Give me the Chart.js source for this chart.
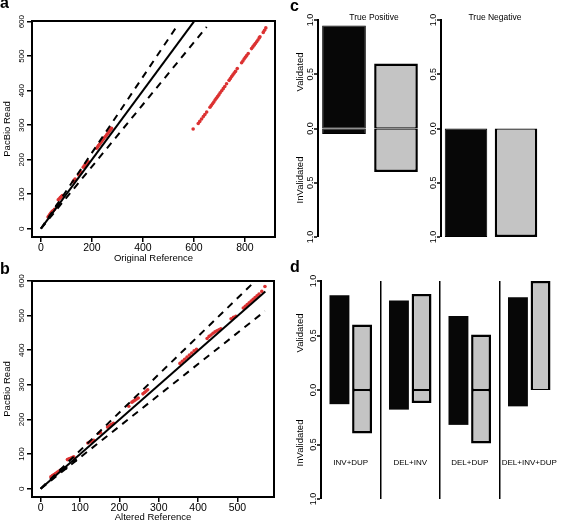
<!DOCTYPE html>
<html>
<head>
<meta charset="utf-8">
<script src="https://cdn.jsdelivr.net/npm/chart.js@4.4.1/dist/chart.umd.min.js"></script>
<style>
  body { margin: 0; background: #fff; }
  #wrap { position: relative; width: 567px; height: 523px; overflow: hidden; background: #fff;
          font-family: "Liberation Sans", Arial, sans-serif; color: #000; }
  canvas { position: absolute; }
  .lbl { position: absolute; white-space: nowrap; line-height: 1; }
  .rot { transform: translate(-50%, -50%) rotate(-90deg); font-size: 9.5px; }
  .ctr { transform: translate(-50%, -50%); font-size: 8.5px; }
  .panel { font-weight: bold; font-size: 16px; line-height: 16px; }
</style>
</head>
<body>
<div id="wrap">
  <canvas id="chartA" width="290" height="264" style="left:0;top:0"></canvas>
  <canvas id="chartB" width="290" height="261" style="left:0;top:262px"></canvas>
  <canvas id="chartC1" width="135" height="260" style="left:290px;top:0"></canvas>
  <canvas id="chartC2" width="142" height="260" style="left:425px;top:0"></canvas>
  <canvas id="chartD" width="277" height="261" style="left:290px;top:262px"></canvas>

  <div class="lbl panel" style="left:0;top:-5px">a</div>
  <div class="lbl panel" style="left:0;top:261px">b</div>
  <div class="lbl panel" style="left:290px;top:-2px">c</div>
  <div class="lbl panel" style="left:290px;top:259px">d</div>

  <div class="lbl ctr" style="left:374px;top:17px">True Positive</div>
  <div class="lbl ctr" style="left:495px;top:17px">True Negative</div>
  <div class="lbl rot" style="left:300px;top:72px">Validated</div>
  <div class="lbl rot" style="left:300px;top:180px">InValidated</div>
  <div class="lbl rot" style="left:300px;top:333px">Validated</div>
  <div class="lbl rot" style="left:300px;top:443px">InValidated</div>
</div>
<script>
// ---- panel a : read vs original reference ----
const aTicksX = [0, 200, 400, 600, 800];
const aTicksY = [0, 100, 200, 300, 400, 500, 600];
const aFitX = [0, 600];   const aFitY = [0, 600];
const aUpX = [0, 538];    const aUpY = [0, 592];
const aLoX = [0, 650];    const aLoY = [0, 585];
const aBlackX = [62, 66, 70];
const aBlackY = [66, 69, 72];
const aRedX = [28, 31, 34, 37, 40, 43, 46, 49, 53, 68, 72, 76, 80, 84, 126, 130, 134, 148, 153, 158,
  166, 170, 174, 178, 182, 186, 218, 222, 226, 230, 234, 238, 242, 246, 250, 254, 258, 262, 266, 270, 274, 277,
  597, 617, 623, 630, 637, 643, 650, 663, 668, 673, 678, 683, 688, 693, 698, 703, 709, 715, 721, 728,
  738, 743, 748, 753, 758, 763, 770, 787, 792, 797, 802, 807, 813, 826, 831, 836, 841, 846, 851, 856, 859,
  872, 877, 882];
const aRedY = [34, 37, 40, 43, 46, 49, 51, 53, 56, 84, 87, 90, 93, 96, 136, 140, 144, 156, 160, 164,
  178, 182, 185, 188, 191, 194, 233, 237, 241, 245, 249, 253, 257, 261, 265, 268, 272, 276, 280, 284, 288, 291,
  289, 305, 311, 318, 325, 331, 338, 352, 357, 362, 367, 373, 378, 383, 388, 394, 400, 406, 412, 420,
  430, 435, 441, 446, 451, 456, 464, 481, 486, 492, 497, 502, 508, 522, 527, 532, 537, 542, 547, 553, 556,
  569, 575, 582];

// ---- panel b : read vs altered reference ----
const bTicksX = [0, 100, 200, 300, 400, 500];
const bTicksY = [0, 100, 200, 300, 400, 500, 600];
const bFitX = [0, 571];   const bFitY = [0, 570];
const bUpX = [0, 547];    const bUpY = [0, 602];
const bLoX = [0, 570];    const bLoY = [0, 513];
const bBlackX = [52, 56, 60, 64, 84, 88];
const bBlackY = [54, 56, 58, 60, 79, 82];
const bRedX = [26, 30, 34, 38, 42, 46, 50, 54, 68, 72, 76, 80, 84, 120, 125, 130, 135, 148, 152,
  170, 175, 180, 185, 224, 232, 236, 240, 244, 248, 260, 264, 268, 272,
  354, 360, 366, 372, 378, 384, 390, 396, 423, 428, 433, 438, 443, 448, 453, 458,
  484, 490, 496, 515, 520, 525, 530, 535, 540, 545, 550, 555, 562, 570];
const bRedY = [34, 38, 41, 44, 47, 50, 53, 56, 84, 86, 88, 90, 92, 132, 135, 137, 140, 160, 162,
  178, 182, 186, 189, 238, 250, 253, 256, 259, 262, 274, 278, 282, 286,
  362, 368, 374, 380, 386, 392, 398, 403, 434, 440, 444, 449, 453, 456, 459, 462,
  491, 495, 498, 522, 527, 532, 537, 542, 547, 552, 557, 562, 570, 584];

// ---- panel c : validation fractions ----
const cBlackValid   = [0.95, 0.00];   // True Positive, True Negative
const cBlackInvalid = [0.05, 1.00];
const cGreyValid    = [0.60, 0.00];
const cGreyInvalid  = [0.40, 1.00];

// ---- panel d ----
const dCategories   = ['INV+DUP', 'DEL+INV', 'DEL+DUP', 'DEL+INV+DUP'];
const dBlackValid   = [0.87, 0.82, 0.68, 0.85];
const dBlackInvalid = [0.13, 0.18, 0.32, 0.15];
const dGreyValid    = [0.60, 0.88, 0.51, 1.00];
const dGreyInvalid  = [0.40, 0.12, 0.49, 0.00];
const fracTicks = [1, 0.5, 0, -0.5, -1];

const BLACK = '#070707';
const GREY = '#c4c4c4';
const RED = '#dc3232';

Chart.defaults.font.family = '"Liberation Sans", Arial, sans-serif';
Chart.defaults.color = '#000';

function pts(xs, ys) { return xs.map((x, i) => ({ x: x, y: ys[i] })); }
function fixedTicks(list) { return s => { s.ticks = list.map(v => ({ value: v })); }; }

// draws the R style box round the plot region
const boxPlugin = {
  id: 'box',
  afterDatasetsDraw(chart) {
    const a = chart.chartArea, c = chart.ctx;
    c.save();
    c.lineWidth = 2;
    c.strokeStyle = '#000';
    c.strokeRect(a.left, a.top, a.right - a.left, a.bottom - a.top);
    c.restore();
  }
};

function dotPlot(id, o) {
  const line = (xs, ys, dash) => ({
    data: pts(xs, ys), showLine: true, borderColor: '#000', backgroundColor: '#000',
    borderWidth: 2, borderDash: dash, pointRadius: 0
  });
  new Chart(document.getElementById(id), {
    type: 'scatter',
    data: {
      datasets: [
        line(o.fitX, o.fitY, []),
        line(o.upX, o.upY, [7, 6]),
        line(o.loX, o.loY, [7, 6]),
        { data: pts(o.blackX, o.blackY), pointRadius: 1.8, backgroundColor: '#000', borderWidth: 0 },
        { data: pts(o.redX, o.redY), pointRadius: 1.8, backgroundColor: RED, borderWidth: 0 }
      ]
    },
    options: {
      responsive: false,
      animation: false,
      layout: { padding: o.pad },
      plugins: { legend: { display: false }, tooltip: { enabled: false } },
      scales: {
        x: {
          type: 'linear', min: o.xMin, max: o.xMax,
          afterFit: s => { s.height = o.xH; },
          afterBuildTicks: fixedTicks(o.ticksX),
          grid: { drawOnChartArea: false, color: '#000', lineWidth: 1.5, tickLength: 5 },
          border: { display: false },
          ticks: { font: { size: 10.5 }, padding: 0, maxRotation: 0, autoSkip: false },
          title: { display: true, text: o.xTitle, font: { size: 9.5 }, padding: 0 }
        },
        y: {
          type: 'linear', min: o.yMin, max: o.yMax,
          afterFit: s => { s.width = 32; },
          afterBuildTicks: fixedTicks(o.ticksY),
          grid: { drawOnChartArea: false, color: '#000', lineWidth: 1.5, tickLength: 5 },
          border: { display: false },
          ticks: { font: { size: 8 }, minRotation: 90, maxRotation: 90, crossAlign: 'center', padding: -1.5, autoSkip: false },
          title: { display: true, text: 'PacBio Read', font: { size: 9.5 }, padding: { top: 2, bottom: 0 } }
        }
      }
    },
    plugins: [boxPlugin]
  });
}

dotPlot('chartA', {
  fitX: aFitX, fitY: aFitY, upX: aUpX, upY: aUpY, loX: aLoX, loY: aLoY,
  blackX: aBlackX, blackY: aBlackY, redX: aRedX, redY: aRedY,
  ticksX: aTicksX, ticksY: aTicksY, xMin: -35, xMax: 918, yMin: -24, yMax: 602,
  xTitle: 'Original Reference', xH: 27, pad: { top: 21, right: 15, left: 0, bottom: 0 }
});
dotPlot('chartB', {
  fitX: bFitX, fitY: bFitY, upX: bUpX, upY: bUpY, loX: bLoX, loY: bLoY,
  blackX: bBlackX, blackY: bBlackY, redX: bRedX, redY: bRedY,
  ticksX: bTicksX, ticksY: bTicksY, xMin: -22, xMax: 593, yMin: -24, yMax: 600,
  xTitle: 'Altered Reference', xH: 26, pad: { top: 19, right: 16, left: 0, bottom: 0 }
});

// y axis shared by the bar panels: 1.0 at top, 0.0 in the middle, 1.0 at the bottom
function fracAxis(width, pad) {
  return {
    type: 'linear', min: -1, max: 1, stacked: false,
    afterFit: s => { s.width = width; },
    afterBuildTicks: fixedTicks(fracTicks),
    // lineWidth 0 keeps bars from being shifted off the 0 line; tick marks use tickWidth
    grid: { drawOnChartArea: false, color: '#000', lineWidth: 0, tickWidth: 1.5, tickLength: 4 },
    border: { display: true, color: '#000', width: 2 },
    ticks: {
      font: { size: 9 }, minRotation: 90, maxRotation: 90, crossAlign: 'center', padding: pad,
      autoSkip: false, callback: v => Math.abs(v).toFixed(1)
    }
  };
}

function greyParts(valid, invalid, stack) {
  return [
    { data: valid.map(v => [0, v]), backgroundColor: GREY, borderColor: '#000', stack: stack,
      borderWidth: { top: 2.5, left: 2.5, right: 2.5, bottom: 1.2 }, borderSkipped: false },
    { data: invalid.map(v => [-v, 0]), backgroundColor: GREY, borderColor: '#000', stack: stack,
      borderWidth: { top: 1.2, left: 2.5, right: 2.5, bottom: 2.5 }, borderSkipped: false }
  ];
}

function cPanel(id, k, yWidth, pad, barPct) {
  const g = greyParts([cGreyValid[k]], [cGreyInvalid[k]]);
  new Chart(document.getElementById(id), {
    type: 'bar',
    data: {
      labels: ['black', 'grey'],
      datasets: [
        { data: [[0, cBlackValid[k]], null], backgroundColor: BLACK, borderColor: '#000', borderWidth: 1, borderSkipped: false },
        { data: [[-cBlackInvalid[k], 0], null], backgroundColor: BLACK, borderColor: '#000', borderWidth: 1, borderSkipped: false },
        Object.assign(g[0], { data: [null, [0, cGreyValid[k]]] }),
        Object.assign(g[1], { data: [null, [-cGreyInvalid[k], 0]] })
      ]
    },
    options: {
      responsive: false,
      animation: false,
      datasets: { bar: { grouped: false, categoryPercentage: 1, barPercentage: barPct } },
      layout: { padding: pad },
      plugins: { legend: { display: false }, tooltip: { enabled: false } },
      scales: {
        x: { display: false },
        y: fracAxis(yWidth, -2.5)
      }
    }
  });
}

cPanel('chartC1', 0, 28, { top: 20, bottom: 23, left: 0, right: 3 }, 0.84);
cPanel('chartC2', 1, 16, { top: 20, bottom: 23, left: 0, right: 26 }, 0.85);

new Chart(document.getElementById('chartD'), {
  type: 'bar',
  data: {
    labels: dCategories,
    datasets: [
      { data: dBlackValid.map(v => [0, v]), backgroundColor: BLACK, borderWidth: 0, stack: 'black' },
      { data: dBlackInvalid.map(v => [-v, 0]), backgroundColor: BLACK, borderWidth: 0, stack: 'black' }
    ].concat(greyParts(dGreyValid, dGreyInvalid, 'grey'))
  },
  options: {
    responsive: false,
    animation: false,
    datasets: { bar: { categoryPercentage: 0.76, barPercentage: 0.88 } },
    layout: { padding: { top: 19, bottom: 24, left: 0, right: 8 } },
    plugins: { legend: { display: false }, tooltip: { enabled: false } },
    scales: {
      x: {
        type: 'category', position: { y: -0.62 }, offset: true,
        grid: {
          offset: true, drawOnChartArea: true, drawTicks: false, lineWidth: 1.5,
          color: ctx => (ctx.index >= 1 && ctx.index <= 3) ? '#000' : 'rgba(0,0,0,0)'
        },
        border: { display: false },
        ticks: { font: { size: 8 }, padding: 0, maxRotation: 0, autoSkip: false }
      },
      y: fracAxis(31, -2.5)
    }
  }
});
</script>
</body>
</html>
